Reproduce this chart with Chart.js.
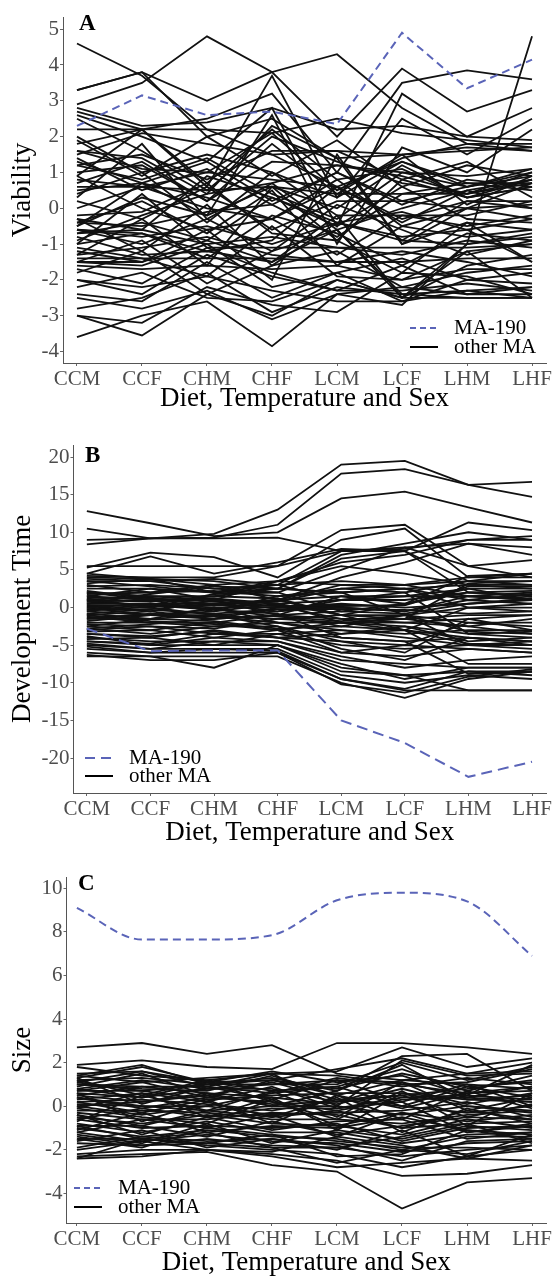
<!DOCTYPE html>
<html>
<head>
<meta charset="utf-8">
<script src="https://cdn.jsdelivr.net/npm/chart.js@4.4.1/dist/chart.umd.min.js"></script>
<style>
  body { margin: 0; background: #fff; }
  #wrap { position: relative; width: 555px; height: 1278px; }
  canvas { position: absolute; left: 0; }
</style>
</head>
<body>
<div id="wrap">
  <canvas id="chartA" width="555" height="426" style="top:0px"></canvas>
  <canvas id="chartB" width="555" height="426" style="top:426px"></canvas>
  <canvas id="chartC" width="555" height="426" style="top:852px"></canvas>
</div>
<script>
/////////////////////////// data ///////////////////////////
var categories = ['CCM', 'CCF', 'CHM', 'CHF', 'LCM', 'LCF', 'LHM', 'LHF'];

// MA-190 (dashed blue line)
var viabilityMA190 = [2.3, 3.15, 2.6, 2.7, 2.35, 4.9, 3.35, 4.15];
var devTimeMA190 = [-2.8, -5.8, -5.7, -5.7, -15.0, -18.0, -22.5, -20.5];
var sizeMA190 = [9.1, 7.65, 7.65, 7.85, 9.45, 9.8, 9.4, 6.9];

// other MA lines, one row per line
var viabilityOther = [
  [4.6, 3.7, 2.2, 1.5, 0.6, -0.4, 0.5, 0.8],
  [2.9, 3.5, 4.8, 3.8, 4.3, 2.8, 1.8, 1.6],
  [3.3, 3.8, 3.0, 3.8, 2.0, 3.9, 2.7, 3.3],
  [2.7, 2.2, 2.5, 3.2, 1.0, 3.5, 3.85, 3.6],
  [2.6, 2.0, 1.3, 2.8, -0.5, 3.2, 2.0, 2.8],
  [2.2, 2.2, 2.2, 2.1, 2.5, 2.1, 1.9, 1.7],
  [1.8, 2.2, 0.6, 3.7, 0.3, 2.5, 1.5, 2.5],
  [1.5, 2.1, 1.8, 1.5, 1.6, 1.5, 1.6, 1.7],
  [1.3, 0.7, -0.2, 2.6, -1.0, 1.7, 1.0, 2.2],
  [1.0, 1.2, 0.2, 1.3, 1.2, 1.0, 0.6, 0.9],
  [0.8, 0.6, 1.0, 0.8, 0.6, 1.3, 0.7, 0.7],
  [0.6, 0.6, 0.5, 0.6, 0.4, 0.4, 0.4, 0.8],
  [0.3, 1.8, -0.3, 0.7, -0.6, 0.0, 0.5, 0.0],
  [0.0, 0.6, 0.0, -0.3, 0.8, -0.5, 0.0, 0.1],
  [-0.3, -0.6, 0.9, 0.3, -0.5, 0.6, -0.3, -0.4],
  [-0.5, 0.3, -0.2, 0.6, 0.0, 1.2, 0.3, 0.6],
  [-0.6, -0.8, -0.5, -1.0, -0.4, -0.9, -1.0, -0.7],
  [-0.7, -0.6, -1.0, -0.8, -1.1, -1.3, -0.9, -1.1],
  [-0.8, -1.3, -1.2, -1.5, -0.2, -2.5, -1.6, -1.3],
  [-1.0, 0.4, -1.1, -1.1, -1.1, -1.1, -1.1, -1.0],
  [-1.2, -1.5, -0.6, -2.0, 1.5, -1.0, -0.4, -1.5],
  [-1.4, -1.4, -1.4, -1.4, -1.5, -1.5, -1.4, -1.4],
  [-1.5, -0.9, -2.1, -1.2, -0.6, -2.4, -2.5, -2.5],
  [-1.6, -1.7, -1.6, -1.7, -1.6, -2.0, -1.7, -1.7],
  [-2.2, -1.8, -2.5, -2.6, -2.0, -2.5, -2.5, -2.5],
  [-2.5, -2.8, -2.3, -3.1, -2.4, -2.2, -2.4, -2.4],
  [-3.0, -3.2, -2.2, -2.7, -2.9, -1.8, -1.9, -2.4],
  [-3.6, -3.0, -2.6, -3.85, -2.4, -2.7, -1.0, -0.8],
  [-3.0, -3.55, -2.4, -3.0, -2.0, -2.5, -1.2, -1.0],
  [-2.0, -2.2, -1.9, -2.3, -2.6, -2.6, -2.3, -2.2],
  [3.3, 3.8, 2.0, 2.5, 1.4, 1.5, 1.7, 1.6],
  [2.8, 2.3, 2.4, 2.8, 2.2, 2.3, 2.0, 1.9],
  [1.6, 1.1, 1.0, 2.1, 0.5, 1.4, 1.8, 1.8],
  [0.5, 0.7, 1.3, 0.2, 1.0, 0.2, 0.6, 1.1],
  [-0.4, -0.5, -0.1, 0.1, -0.8, 0.4, 0.7, 0.5],
  [-0.6, -0.7, -1.2, -0.9, 0.6, -0.9, 0.2, 0.2],
  [-1.3, -1.1, -0.8, -1.3, -1.5, -1.2, -1.5, -1.9],
  [-1.7, -2.1, -1.1, -1.8, -2.3, -2.3, -2.1, -2.3],
  [-0.4, 0.2, -0.7, 0.5, -1.6, -0.5, -0.8, -0.6],
  [1.2, 1.5, 0.8, 1.6, 1.6, 0.8, 1.3, 0.3],
  [-1.5, -1.6, -1.0, -2.2, -1.8, -1.4, -2.0, -2.1],
  [0.9, 0.0, -0.6, -0.3, -1.3, -0.2, -0.5, -0.2],
  [-0.9, -0.2, 0.4, 0.7, 1.2, 0.9, 0.4, 0.7],
  [2.0, 1.0, 1.5, 1.0, 0.3, 1.3, 0.6, 1.0],
  [-2.4, -2.6, -1.5, -2.5, -1.8, -2.6, -2.0, -1.8],
  [0.2, -0.3, 0.6, -0.6, 0.2, 0.2, 0.0, -0.3],
  [-0.6, -1.0, -0.3, -1.2, 0.1, -0.6, -1.3, -0.9],
  [1.4, 0.5, 1.1, 0.1, 1.0, 0.1, 0.8, 0.6],
  [-1.1, -1.4, -1.9, -0.5, -1.9, -2.0, -1.2, -2.5],
  [0.7, 1.3, 0.2, 1.8, 0.4, 1.5, 0.1, 0.9],
  [-2.0, -2.4, -1.3, -1.9, -2.3, -1.6, -2.4, -2.2],
  [1.6, 1.4, 0.4, 2.3, 1.4, -1.0, 0.0, 0.7],
  [-0.5, 0.7, 0.3, -0.3, 0.6, -0.3, 0.2, 0.0],
  [2.5, 1.6, 0.5, 2.0, 1.3, 0.7, 0.4, 1.0],
  [-0.7, -0.4, -0.9, 0.3, -0.4, -0.8, -0.6, -1.5],
  [-1.5, -1.5, -0.9, -1.5, -0.6, -2.5, -1.0, 4.8],
  [1.2, 0.8, 1.4, 0.4, -0.3, 1.0, 0.9, 1.1],
  [-0.2, -0.1, 0.7, -0.7, -0.9, 0.8, 0.3, 0.6],
  [-1.0, -0.7, -1.4, -0.2, -0.7, -1.6, -0.7, -0.9],
  [0.4, 1.0, -0.4, 1.0, -0.2, -0.2, -0.2, 0.2],
  [-1.8, -1.2, -2.4, -1.6, -1.2, -2.2, -1.8, -1.6],
  [-2.8, -2.5, -1.8, -2.9, -2.2, -2.4, -2.3, -2.5],
  [1.9, 0.9, 2.0, 0.9, 1.9, 0.6, 1.2, 0.9],
  [-0.3, -1.2, 0.1, -1.6, -0.4, -0.1, -0.6, -0.3],
  [0.9, 2.2, 0.7, 2.2, 0.8, 1.1, 0.3, 0.8],
  [-1.3, -0.3, -1.6, 0.6, -0.9, -1.8, -0.4, -0.6]
];

var devTimeOther = [
  [8.4, 9.2, 9.8, 13.0, 19.0, 19.5, 16.3, 14.7],
  [9.0, 9.2, 9.3, 11.0, 17.8, 18.4, 16.3, 16.7],
  [12.8, 11.2, 9.5, 10.0, 14.5, 15.4, 13.3, 11.3],
  [10.5, 9.2, 9.2, 9.3, 7.5, 7.8, 9.0, 9.0],
  [5.5, 5.5, 5.5, 5.5, 10.3, 11.0, 5.5, 4.0],
  [5.3, 7.3, 6.7, 4.0, 9.0, 10.5, 4.0, 4.5],
  [4.5, 6.8, 4.5, 6.0, 7.8, 7.5, 11.3, 10.3],
  [4.2, 4.0, 4.0, 5.5, 7.5, 8.0, 5.5, 6.3],
  [4.0, 3.8, 3.0, 3.5, 6.0, 7.0, 9.0, 9.5],
  [3.5, 3.5, 2.5, 2.0, 5.0, 8.0, 8.5, 8.0],
  [3.0, 2.0, 3.0, 1.0, 4.0, 6.0, 8.5, 7.0],
  [2.5, 2.5, 2.0, 3.5, 3.0, 3.0, 3.5, 4.5],
  [2.0, 1.5, 1.5, 2.5, 2.0, 2.5, 3.0, 3.0],
  [1.5, 1.0, 0.5, 1.0, 1.5, 1.5, 1.5, 2.0],
  [1.0, 1.5, 1.0, 0.5, 1.0, 1.0, 2.0, 1.5],
  [0.5, 0.5, 0.0, 0.0, 0.5, 0.0, 0.5, 1.0],
  [0.0, 0.5, 0.5, -0.5, 0.0, -0.5, 1.0, 0.5],
  [-0.5, -1.0, -0.5, 0.5, -1.0, -1.0, 0.0, 0.0],
  [-1.0, -0.5, -1.5, -1.0, -1.5, -1.5, -1.0, -1.0],
  [-1.5, -1.5, -1.0, -1.5, -2.0, -2.0, -2.5, -1.5],
  [-2.0, -2.0, -2.5, -2.0, -3.0, -3.5, -3.0, -3.0],
  [-2.5, -3.0, -2.0, -3.0, -4.0, -4.5, -4.0, -4.5],
  [-3.0, -2.5, -3.5, -3.5, -5.0, -5.5, -5.0, -5.0],
  [-3.5, -4.0, -3.0, -4.0, -6.0, -6.5, -5.5, -6.0],
  [-4.0, -4.5, -4.5, -4.5, -7.0, -7.5, -8.0, -8.0],
  [-4.5, -5.0, -5.0, -5.0, -8.5, -9.0, -8.5, -8.5],
  [-5.0, -5.5, -5.5, -5.5, -9.0, -10.0, -9.0, -9.5],
  [-5.5, -6.0, -6.0, -6.0, -9.5, -11.0, -11.0, -11.0],
  [-6.0, -6.5, -6.5, -6.5, -10.0, -12.0, -9.5, -8.5],
  [-6.5, -6.5, -8.0, -5.0, -8.0, -9.0, -11.0, -11.0],
  [-6.3, -7.0, -7.0, -6.0, -10.2, -11.3, -9.2, -8.2],
  [3.8, 3.5, 3.8, 3.0, 1.0, 2.0, -3.5, -4.0],
  [2.8, 3.0, 2.5, 3.0, 3.5, 3.0, 4.0, 4.0],
  [1.8, 2.0, 2.2, 1.5, 2.5, 2.0, 3.5, 3.5],
  [1.2, 0.0, 1.8, 2.0, -0.5, 0.5, 2.5, 2.5],
  [0.8, 1.0, -0.5, 1.5, 2.0, 2.5, 1.0, 1.8],
  [0.2, -0.5, 1.0, -1.0, -2.5, -1.0, -5.0, -5.5],
  [-0.2, 0.0, -1.0, -0.5, 1.0, 1.5, 2.5, 1.0],
  [-0.8, -1.5, 0.0, -2.0, -3.5, -2.5, -4.5, -4.0],
  [-1.2, -2.0, -2.0, -1.0, -0.5, -0.8, 0.5, 1.2],
  [-1.8, -1.0, -1.0, -2.5, -4.5, -6.0, -1.5, -3.0],
  [-2.2, -2.5, -2.8, -1.5, -1.0, 0.5, 2.0, 2.2],
  [-2.8, -3.5, -2.5, -2.5, -5.5, -7.0, -4.0, -5.0],
  [-3.2, -3.0, -4.0, -3.0, -2.0, -2.5, -3.5, -3.2],
  [-3.8, -5.0, -4.0, -4.5, -6.5, -8.0, -7.0, -6.5],
  [-4.2, -4.0, -5.0, -3.5, -3.0, -4.0, -5.0, -4.5],
  [-4.8, -5.5, -4.5, -5.0, -7.5, -9.5, -8.0, -8.0],
  [-5.2, -6.0, -5.5, -5.8, -9.5, -10.8, -8.5, -9.0],
  [1.5, 2.5, 1.0, 3.5, 5.5, 4.5, 3.0, 2.5],
  [0.5, 1.8, 2.8, 2.5, 6.5, 7.5, 2.0, 1.5],
  [-0.5, 0.5, -0.2, 1.0, 3.0, 2.5, 0.0, -0.5],
  [2.2, 1.2, 0.8, 0.2, -1.5, -2.0, -1.5, -1.0],
  [-1.0, -1.8, -2.2, -3.0, -6.0, -5.0, -5.5, -6.0],
  [0.0, -1.0, -1.5, 0.0, 0.0, -0.5, 1.5, 1.0],
  [3.2, 3.8, 2.0, 2.5, 2.0, -1.0, -2.0, -2.5],
  [-2.5, -1.5, -1.8, -2.8, -2.5, -3.0, 0.0, 0.5],
  [1.0, 0.8, 1.5, 1.2, -1.0, -3.0, -4.0, -4.5],
  [-3.5, -3.8, -3.2, -4.0, -4.5, -5.0, -2.0, -2.0],
  [4.5, 3.8, 3.5, 2.5, 7.0, 8.5, 10.0, 9.0],
  [-1.5, -0.8, -1.2, -2.0, -2.0, -1.5, -2.5, -3.5],
  [0.3, 0.2, 0.3, 0.2, 0.2, 0.3, 2.8, 2.8],
  [-0.3, -0.3, -0.8, -0.2, -0.2, -0.3, -0.8, -0.5],
  [1.3, 1.3, 0.3, 1.0, -1.0, -1.5, 3.2, 3.5],
  [-1.3, -1.0, -0.2, -1.2, -1.8, -1.0, -3.2, -3.5],
  [2.0, 1.0, 1.2, 0.5, -2.0, -3.0, -7.5, -7.5],
  [-2.8, -2.2, -1.5, -1.0, 1.5, 0.5, 4.2, 4.5],
  [0.8, 0.3, -0.3, -0.8, -4.0, -4.5, -8.8, -8.5],
  [-0.8, -0.2, 0.5, 0.8, 2.5, 3.0, 1.5, 1.2],
  [3.5, 2.8, 2.0, 3.0, 7.5, 7.5, 3.5, 3.0],
  [-4.5, -4.8, -3.5, -4.0, -3.5, -3.0, -4.8, -5.0]
];

var sizeOther = [
  [2.7, 2.9, 2.4, 2.8, 1.5, 1.2, 1.5, 1.6],
  [1.9, 2.1, 1.8, 1.7, 2.9, 2.9, 2.7, 2.4],
  [1.8, 1.4, 1.2, 1.5, 1.6, 2.7, 1.8, 2.2],
  [1.4, 1.9, 1.0, 1.3, 0.7, 2.3, 2.4, 0.7],
  [1.3, 1.8, 1.1, 1.2, 1.7, 2.2, 1.5, 2.0],
  [1.2, 1.3, 1.0, 1.0, 1.0, 2.0, 1.2, 1.8],
  [1.1, 0.7, 1.0, 1.2, 0.8, 1.5, 0.9, 1.1],
  [1.0, 0.8, 0.7, 1.4, 0.5, 1.2, 1.0, 0.8],
  [0.8, 0.4, 0.8, 0.8, 0.2, 1.0, 0.6, 0.9],
  [0.7, 0.7, 0.3, 0.5, 0.6, 0.6, 0.3, 0.5],
  [0.5, 0.2, 0.6, 0.4, 0.1, 0.8, 0.1, 0.6],
  [0.4, -0.1, 0.4, 0.2, -0.2, 0.3, 0.4, 0.2],
  [0.2, 0.3, 0.1, -0.2, 0.3, 0.0, -0.3, 0.0],
  [0.1, 0.0, -0.2, 0.0, 0.0, -0.4, 0.0, -0.3],
  [0.0, -0.4, 0.0, -0.4, -0.3, -0.2, 0.2, -0.5],
  [-0.2, -0.2, -0.3, -0.6, -0.6, -0.8, -0.4, -0.2],
  [-0.3, -0.6, -0.6, -0.3, -0.4, -1.0, -0.8, -0.7],
  [-0.5, -0.8, -0.4, -0.8, -0.9, -1.3, -0.6, -1.0],
  [-0.6, -1.0, -0.9, -1.0, -0.8, -1.6, -1.0, -0.9],
  [-0.8, -1.2, -0.7, -1.2, -1.2, -1.7, -1.3, -1.2],
  [-1.0, -1.4, -1.1, -1.4, -1.5, -2.0, -1.4, -1.4],
  [-1.2, -1.6, -1.3, -1.6, -1.7, -2.1, -1.7, -1.6],
  [-1.4, -1.8, -1.5, -1.8, -1.9, -2.3, -2.0, -1.8],
  [-1.5, -1.5, -1.8, -2.0, -2.2, -2.8, -2.3, -2.0],
  [-2.2, -2.0, -2.0, -2.2, -2.5, -3.2, -3.1, -2.7],
  [-2.3, -2.2, -2.1, -2.7, -3.0, -4.7, -3.5, -3.3],
  [-2.4, -2.3, -2.0, -2.3, -2.8, -2.6, -2.4, -2.5],
  [-2.4, -1.5, -1.7, -1.9, -2.6, -2.0, -2.2, -1.6],
  [-1.9, -1.4, -1.6, -1.5, -2.0, -1.1, -2.3, -1.3],
  [1.3, 0.1, 0.9, 0.3, 1.2, 0.2, 1.0, 0.0],
  [0.9, 1.5, 0.5, 1.1, 0.3, 0.5, 0.8, 1.2],
  [-0.7, 0.5, -0.2, 0.7, -0.5, 1.1, -0.2, 0.4],
  [-1.1, -0.3, -1.2, -0.9, -1.0, -0.5, -1.1, -1.5],
  [0.6, -0.7, 0.2, -0.5, 0.4, -1.2, -0.1, -0.8],
  [-1.3, -1.7, -0.8, -1.7, -1.1, -1.5, -0.9, -1.1],
  [1.0, 0.9, 0.9, 0.6, 1.3, 0.9, 1.3, 1.0],
  [0.3, 0.6, 0.2, 0.9, -0.1, 0.4, 0.5, 0.3],
  [-0.4, -1.3, -0.5, -1.1, -0.7, -0.6, -1.5, -1.2],
  [1.2, 0.5, 1.2, 0.7, 0.9, 1.7, 0.7, 1.4],
  [-0.9, -0.9, -1.4, -0.7, -1.3, -0.9, -0.5, -0.6],
  [0.7, 1.1, 0.4, 1.2, 0.5, -0.1, 0.6, 0.7],
  [-1.5, -1.9, -1.0, -1.3, -1.6, -1.9, -1.9, -2.0],
  [0.0, 0.2, 0.5, 0.1, 0.2, 0.5, -0.5, 0.1],
  [-0.1, -0.5, -0.8, 0.3, -0.9, -0.3, -0.7, -0.4],
  [1.4, 1.1, 1.3, 1.5, 1.4, 1.0, 1.1, 1.7],
  [-1.6, -1.1, -1.9, -1.5, -1.8, -2.5, -1.6, -1.5],
  [0.5, 0.9, 0.6, 0.0, 0.7, 1.9, 0.3, 0.2],
  [-0.6, -0.1, -0.5, -0.1, -0.1, 0.2, -1.2, -0.8],
  [-2.0, -1.6, -2.0, -2.1, -1.4, -1.8, -2.4, -1.8],
  [1.5, 1.6, 1.1, 1.6, 1.1, 1.4, 0.5, 1.9],
  [0.8, 1.2, 0.8, 1.0, 1.2, 1.1, 0.4, 0.9],
  [-0.4, -0.9, -0.2, -0.5, -0.2, -1.0, -0.2, -0.6],
  [0.2, -0.3, 0.3, -0.8, 0.5, -0.6, 0.7, -0.1],
  [-1.2, -0.6, -1.0, -0.4, -1.4, -0.3, -1.2, -0.9],
  [1.1, 1.6, 0.9, 1.5, 0.0, 2.1, 1.4, 1.5],
  [-0.9, -1.5, -1.2, -1.9, -1.9, -1.4, -0.8, -1.7],
  [0.4, 0.0, 0.0, 0.6, 0.9, 0.0, 0.9, 0.4],
  [-1.7, -1.8, -1.7, -1.3, -2.3, -2.2, -1.1, -1.3],
  [0.6, 0.4, 1.1, 0.2, -0.6, 0.7, -0.9, 0.6],
  [-0.1, 0.6, -0.5, 0.4, -1.1, 0.6, 0.0, -0.2]
];

var legendLabels = ['MA-190', 'other MA'];

//////////////////////// drawing ////////////////////////
var SERIF = "'Liberation Serif', 'Times New Roman', serif";
var BLUE = '#5a64b8';
var H = 426;

function toPoints(values) {
  return values.map(function (v, i) { return { x: i, y: v }; });
}

// panel letter + legend drawn inside the plot
var panelNotes = {
  id: 'panelNotes',
  afterDraw: function (chart, args, opts) {
    var ctx = chart.ctx;
    ctx.save();
    ctx.fillStyle = '#000';
    ctx.font = 'bold 23px ' + SERIF;
    ctx.textBaseline = 'alphabetic';
    ctx.fillText(opts.letter, opts.letterX, opts.letterY);

    ctx.font = '21px ' + SERIF;
    ctx.textBaseline = 'middle';
    ctx.lineWidth = 2;
    // MA-190 dashed
    ctx.strokeStyle = BLUE;
    ctx.setLineDash(opts.dash);
    ctx.beginPath();
    ctx.moveTo(opts.lx1, opts.ly1);
    ctx.lineTo(opts.lx2, opts.ly1);
    ctx.stroke();
    ctx.fillText(legendLabels[0], opts.tx, opts.ly1);
    // other MA solid
    ctx.setLineDash([]);
    ctx.strokeStyle = '#000';
    ctx.beginPath();
    ctx.moveTo(opts.lx1, opts.ly2);
    ctx.lineTo(opts.lx2, opts.ly2);
    ctx.stroke();
    ctx.fillText(legendLabels[1], opts.tx, opts.ly2);
    ctx.restore();
  }
};

function makePanel(id, p) {
  var datasets = [{
    data: toPoints(p.ma190),
    borderColor: BLUE,
    borderWidth: 2,
    borderDash: p.dash,
    cubicInterpolationMode: p.smooth ? 'monotone' : 'default',
    tension: p.smooth ? 0.4 : 0,
    pointRadius: 0
  }];
  p.other.forEach(function (row) {
    datasets.push({
      data: toPoints(row),
      borderColor: '#111',
      borderWidth: 1.8,
      pointRadius: 0
    });
  });

  return new Chart(document.getElementById(id), {
    type: 'line',
    data: { datasets: datasets },
    plugins: [panelNotes],
    options: {
      responsive: false,
      animation: false,
      devicePixelRatio: 1,
      layout: { padding: { left: 0, top: p.top, right: 555 - p.right, bottom: 0 } },
      plugins: {
        legend: { display: false },
        tooltip: { enabled: false },
        panelNotes: p.notes
      },
      scales: {
        x: {
          type: 'linear',
          min: p.xmin,
          max: p.xmax,
          afterFit: function (scale) { scale.height = H - p.bottom; },
          grid: { drawOnChartArea: false, drawTicks: true, tickLength: 3, color: '#666' },
          border: { display: true, color: '#555', width: 1 },
          ticks: {
            stepSize: 1,
            includeBounds: false,
            autoSkip: false,
            maxRotation: 0,
            padding: 1,
            color: '#4d4d4d',
            font: { family: SERIF, size: 21 },
            callback: function (v) { return Number.isInteger(v) ? categories[v] : ''; }
          },
          title: {
            display: true,
            text: 'Diet, Temperature and Sex',
            color: '#000',
            font: { family: SERIF, size: 27, lineHeight: 1 },
            padding: { top: 0, bottom: p.xTitlePad }
          }
        },
        y: {
          min: p.ymin,
          max: p.ymax,
          afterFit: function (scale) { scale.width = p.left; },
          grid: { drawOnChartArea: false, drawTicks: true, tickLength: 3, color: '#666' },
          border: { display: true, color: '#555', width: 1 },
          ticks: {
            stepSize: p.step,
            includeBounds: false,
            padding: 1,
            color: '#4d4d4d',
            font: { family: SERIF, size: 21 }
          },
          title: {
            display: true,
            text: p.yTitle,
            color: '#000',
            font: { family: SERIF, size: 27, lineHeight: 1 },
            padding: { top: 9, bottom: 0 }
          }
        }
      }
    }
  });
}

makePanel('chartA', {
  ma190: viabilityMA190, other: viabilityOther, yTitle: 'Viability',
  left: 63, right: 546, top: 17, bottom: 363,
  xmin: -0.215, xmax: 7.215, ymin: -4.32, ymax: 5.34, step: 1,
  xTitlePad: 14, dash: [8, 5],
  notes: { letter: 'A', letterX: 79, letterY: 30, dash: [6, 4],
           lx1: 410, lx2: 438, tx: 454, ly1: 328, ly2: 347 }
});

makePanel('chartB', {
  ma190: devTimeMA190, other: devTimeOther, yTitle: 'Development Time',
  left: 73.5, right: 546, top: 19, bottom: 367,
  xmin: -0.21, xmax: 7.22, ymin: -24.65, ymax: 21.6, step: 5,
  xTitlePad: 6, dash: [11, 6],
  notes: { letter: 'B', letterX: 85, letterY: 36, dash: [10, 6],
           lx1: 85, lx2: 113, tx: 129, ly1: 332, ly2: 350 }
});

makePanel('chartC', {
  ma190: sizeMA190, other: sizeOther, yTitle: 'Size',
  left: 66.5, right: 546, top: 25, bottom: 371,
  xmin: -0.16, xmax: 7.215, ymin: -5.36, ymax: 10.52, step: 2,
  xTitlePad: 2, dash: [8, 5], smooth: true,
  notes: { letter: 'C', letterX: 78, letterY: 38, dash: [6, 4],
           lx1: 74, lx2: 102, tx: 118, ly1: 336, ly2: 355 }
});
</script>
</body>
</html>
